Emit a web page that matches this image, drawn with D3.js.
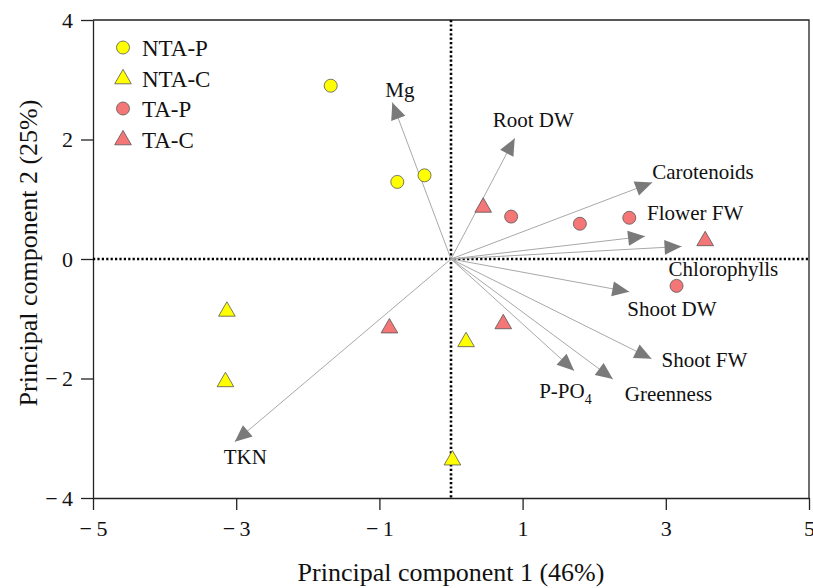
<!DOCTYPE html>
<html>
<head>
<meta charset="utf-8">
<script src="https://cdn.jsdelivr.net/npm/d3@7"></script>
<style>
  body { margin: 0; background: #fff; }
  text { font-family: "Liberation Serif", "Times New Roman", serif; fill: #111; }
</style>
</head>
<body>
<div id="chart"></div>
<script>
// scores (sample points)
var groups = ['NTA-P', 'NTA-C', 'TA-P', 'TA-C'];
var pointGroup = ['NTA-P','NTA-P','NTA-P',
                  'NTA-C','NTA-C','NTA-C','NTA-C',
                  'TA-P','TA-P','TA-P','TA-P',
                  'TA-C','TA-C','TA-C','TA-C'];
var pc1 = [-1.68, -0.75, -0.37,
           -3.13, -3.15, 0.02, 0.21,
           0.84, 1.80, 2.49, 3.15,
           0.45, 3.55, 0.73, -0.86];
var pc2 = [2.90, 1.29, 1.40,
           -0.86, -2.04, -3.35, -1.37,
           0.71, 0.59, 0.69, -0.45,
           0.88, 0.32, -1.07, -1.14];

// loadings (arrows)
var variables = ['Mg','Root DW','Carotenoids','Flower FW','Chlorophylls',
                 'Shoot DW','Shoot FW','P-PO4','Greenness','TKN'];
var loadX = [-0.82, 0.89, 2.81, 2.71, 3.22, 2.49, 2.80, 1.72, 2.26, -3.02];
var loadY = [2.62, 2.02, 1.28, 0.38, 0.21, -0.55, -1.67, -1.87, -2.01, -3.06];

var xTicks = [-5, -3, -1, 1, 3, 5];
var yTicks = [-4, -2, 0, 2, 4];

// label offsets from arrow tip, in pixels
var labelOffset = {
  'Mg': [-7, -5], 'Root DW': [-22, -11], 'Carotenoids': [0, -4],
  'Flower FW': [2, -16], 'Chlorophylls': [-13, 30], 'Shoot DW': [-2, 24],
  'Shoot FW': [10, 8], 'P-PO4': [-35, 27], 'Greenness': [12, 22], 'TKN': [-11, 22]
};

var color = d3.scaleOrdinal().domain(groups).range(['#ffff00', '#ffff00', '#f47676', '#f47676']);
var shape = d3.scaleOrdinal().domain(groups).range(['circle', 'triangle', 'circle', 'triangle']);

var W = 813, H = 588;
var margin = {top: 20, right: 4, bottom: 90, left: 93};

var svg = d3.select('#chart').append('svg')
    .attr('width', W).attr('height', H);

var x = d3.scaleLinear().domain([-5, 5]).range([margin.left, W - margin.right]);
var y = d3.scaleLinear().domain([-4, 4]).range([H - margin.bottom, margin.top]);

function fmt(d) { return d < 0 ? '\u2212\u2009' + Math.abs(d) : String(d); }

// axes
var xAxis = svg.append('g')
    .attr('transform', 'translate(0,' + y(-4) + ')')
    .call(d3.axisBottom(x).tickValues(xTicks).tickSize(12).tickSizeOuter(0).tickPadding(10).tickFormat(fmt));
var yAxis = svg.append('g')
    .attr('transform', 'translate(' + x(-5) + ',0)')
    .call(d3.axisLeft(y).tickValues(yTicks).tickSize(12).tickSizeOuter(0).tickPadding(8).tickFormat(fmt));
[xAxis, yAxis].forEach(function (g) {
  g.selectAll('path, line').attr('stroke', '#222').attr('stroke-width', 1.3);
  g.selectAll('text').style('font-size', '22px').attr('fill', '#111');
});

// top/right frame
svg.append('path')
    .attr('d', 'M' + x(-5) + ',' + y(4) + 'H' + x(5) + 'V' + y(-4))
    .attr('fill', 'none').attr('stroke', '#222').attr('stroke-width', 1.3);

// zero lines
svg.append('line')
    .attr('x1', x(0)).attr('x2', x(0)).attr('y1', y(4)).attr('y2', y(-4))
    .attr('stroke', '#000').attr('stroke-width', 2.6).attr('stroke-dasharray', '2.2 2.2');
svg.append('line')
    .attr('x1', x(-5)).attr('x2', x(5)).attr('y1', y(0)).attr('y2', y(0))
    .attr('stroke', '#000').attr('stroke-width', 2.6).attr('stroke-dasharray', '2.2 2.2');

// arrows
var arrows = svg.append('g');
variables.forEach(function (v, i) {
  var x0 = x(0), y0 = y(0), x1 = x(loadX[i]), y1 = y(loadY[i]);
  arrows.append('line')
      .attr('x1', x0).attr('y1', y0).attr('x2', x1).attr('y2', y1)
      .attr('stroke', '#a8a8a8').attr('stroke-width', 1);
  var ang = Math.atan2(y1 - y0, x1 - x0);
  var len = 17, hw = 7.5;
  var bx = x1 - len * Math.cos(ang), by = y1 - len * Math.sin(ang);
  var px = -Math.sin(ang) * hw, py = Math.cos(ang) * hw;
  arrows.append('path')
      .attr('d', 'M' + x1 + ',' + y1 + 'L' + (bx + px) + ',' + (by + py) + 'L' + (bx - px) + ',' + (by - py) + 'Z')
      .attr('fill', '#7a7a7a');
  var off = labelOffset[v];
  var t = arrows.append('text')
      .attr('x', x1 + off[0]).attr('y', y1 + off[1])
      .style('font-size', '21px');
  if (v === 'P-PO4') {
    t.append('tspan').text('P-PO');
    t.append('tspan').text('4').attr('dy', 6).style('font-size', '14px');
  } else {
    t.text(v);
  }
});

// points
var tri = d3.symbol().type(d3.symbolTriangle).size(120);
function drawMarker(g, grp, cx, cy) {
  if (shape(grp) === 'circle') {
    g.append('circle').attr('cx', cx).attr('cy', cy).attr('r', 6.5)
        .attr('fill', color(grp)).attr('stroke', '#555').attr('stroke-width', 0.8);
  } else {
    g.append('path').attr('d', tri).attr('transform', 'translate(' + cx + ',' + (cy + 1) + ')')
        .attr('fill', color(grp)).attr('stroke', '#555').attr('stroke-width', 0.8);
  }
}
var pts = svg.append('g');
pc1.forEach(function (d, i) { drawMarker(pts, pointGroup[i], x(d), y(pc2[i])); });

// legend
var legend = svg.append('g');
groups.forEach(function (grp, i) {
  var ly = 47.5 + i * 30.5;
  drawMarker(legend, grp, 123, ly);
  legend.append('text').attr('x', 142).attr('y', ly + 8.5)
      .style('font-size', '23px').text(grp);
});

// axis titles
svg.append('text')
    .attr('x', x(0)).attr('y', 581)
    .attr('text-anchor', 'middle').style('font-size', '26px')
    .text('Principal component 1 (46%)');
svg.append('text')
    .attr('transform', 'translate(37,' + y(0.1) + ') rotate(-90)')
    .attr('text-anchor', 'middle').style('font-size', '26px')
    .text('Principal component 2 (25%)');
</script>
</body>
</html>
